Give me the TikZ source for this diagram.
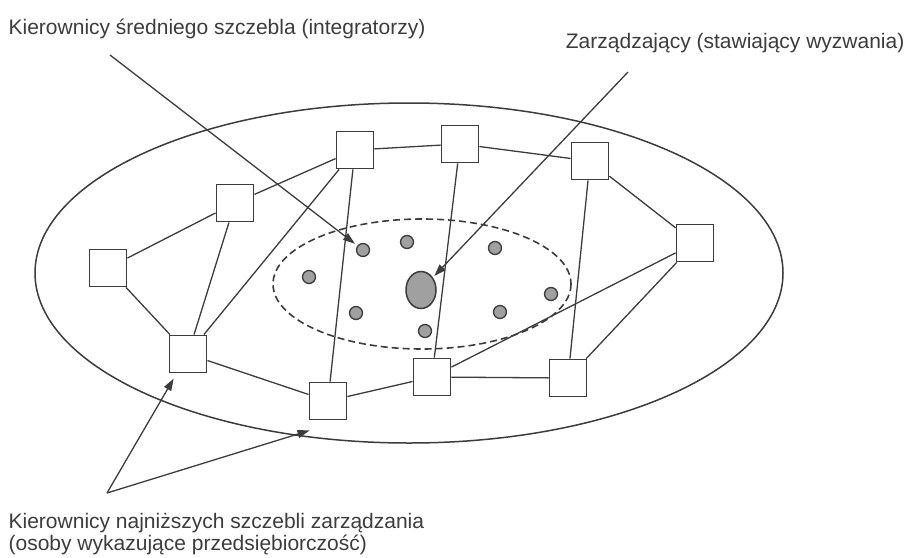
\documentclass[tikz,border=0pt]{standalone}
\usepackage{fontspec}
\setmainfont{Liberation Sans}
\usetikzlibrary{arrows.meta, shapes.geometric}
\definecolor{ink}{HTML}{3C3C3C}
\definecolor{dotgrey}{HTML}{A0A0A0}

\begin{document}
\begin{tikzpicture}[x=1pt, y=-1pt, line width=1.3pt, draw=ink,
    box/.style={draw=ink, rectangle, line width=1.9pt, fill=white, minimum size=37pt, inner sep=0pt},
    dot/.style={draw=ink, circle, fill=dotgrey, line width=1.3pt, minimum size=13pt, inner sep=0pt},
    lab/.style={text=ink, font=\fontsize{21}{22}\selectfont, inner sep=0pt},
    pointer/.style={draw=ink, line width=1.3pt, -{Triangle[length=12pt,width=8pt]}}]
    \useasboundingbox (0,0) rectangle (907,557);

    % organisation and the inner group
    \draw[line width=1.5pt] (409,273) ellipse [x radius=374, y radius=170];
    \draw[dashed, dash pattern=on 7pt off 4pt, line width=1.6pt] (422,284) ellipse [x radius=149, y radius=65];

    % managers
    \node (boss) [draw=ink, ellipse, fill=dotgrey, line width=1.5pt, minimum width=30pt, minimum height=37pt, inner sep=0pt] at (421,290) {};
    \node (d1) [dot] at (363,250) {};
    \node (d2) [dot] at (407,242) {};
    \node (d3) [dot] at (495,248) {};
    \node (d4) [dot] at (309,277) {};
    \node (d5) [dot] at (356,313) {};
    \node (d6) [dot] at (425,331) {};
    \node (d7) [dot] at (500,312) {};
    \node (d8) [dot] at (551,294) {};

    % lower level managers
    \node (a) [box] at (108,268) {};
    \node (b) [box] at (235,203) {};
    \node (c) [box] at (188,354) {};
    \node (d) [box] at (328,401) {};
    \node (e) [box] at (355,150) {};
    \node (f) [box] at (460,144) {};
    \node (g) [box] at (590,161) {};
    \node (h) [box] at (695,243) {};
    \node (i) [box] at (432,377) {};
    \node (j) [box] at (568,378) {};

    \draw (a) -- (b);
    \draw (a) -- (c);
    \draw (b) -- (c);
    \draw (b) -- (e);
    \draw (e) -- (c);
    \draw (e) -- (d);
    \draw (e) -- (f);
    \draw (f) -- (g);
    \draw (f) -- (i);
    \draw (g) -- (h);
    \draw (g) -- (j);
    \draw (h) -- (j);
    \draw (h) -- (i);
    \draw (c) -- (d);
    \draw (d) -- (i);
    \draw (i) -- (j);

    % labels
    \node (midlab) [lab, anchor=base west] at (8,34) {Kierownicy średniego szczebla (integratorzy)};
    \node (toplab) [lab, anchor=base east] at (905,48) {Zarządzający (stawiający wyzwania)};
    \node (lowlab) [lab, anchor=north west, align=left] at (8,513) {Kierownicy najniższych szczebli zarządzania\\(osoby wykazujące przedsiębiorczość)};

    \coordinate (midtail) at (110,55);
    \coordinate (toptail) at (628,72);
    \coordinate (lowtail) at (107,493);
    \draw[pointer, shorten >=3pt] (midtail) -- (d1);
    \draw[pointer, shorten >=2pt] (toptail) -- (boss);
    \draw[pointer, shorten >=6pt] (lowtail) -- (c);
    \draw[pointer] (lowtail) -- ([xshift=1pt, yshift=-10pt]d.south west);
  \end{tikzpicture}
\end{document}
